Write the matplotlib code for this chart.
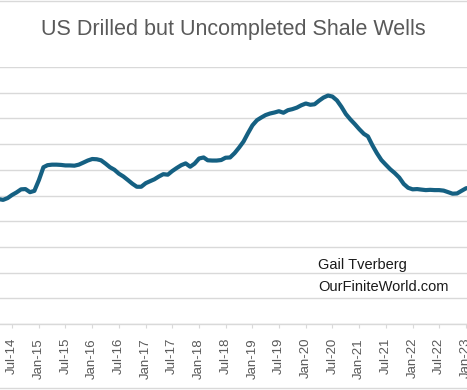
import matplotlib
matplotlib.use("Agg")
import matplotlib.pyplot as plt
import matplotlib.dates as mdates
from matplotlib.lines import Line2D
import pandas as pd
import datetime

# monthly DUC wells, starting Mar-2014
start_month = "2014-03-01"
duc_wells = [
    4870, 4860, 4830, 4900, 5020, 5120, 5240, 5250, 5130, 5180,   # Mar-14 .. Dec-14
    5600, 6100, 6180, 6200, 6200, 6190, 6170, 6170, 6160, 6200,   # Jan-15 .. Oct-15
    6280, 6360, 6420, 6410, 6370, 6240, 6100, 6000, 5850, 5740,   # Nov-15 .. Aug-16
    5600, 5460, 5340, 5340, 5480, 5560, 5630, 5740, 5830, 5810,   # Sep-16 .. Jun-17
    5950, 6070, 6180, 6250, 6120, 6240, 6440, 6480, 6370, 6360,   # Jul-17 .. Apr-18
    6360, 6380, 6470, 6480, 6650, 6860, 7100, 7420, 7730, 7930,   # May-18 .. Feb-19
    8030, 8130, 8190, 8230, 8280, 8220, 8320, 8360, 8420, 8510,   # Mar-19 .. Dec-19
    8580, 8530, 8550, 8690, 8810, 8890, 8850, 8700, 8450, 8170,   # Jan-20 .. Oct-20
    7960, 7780, 7580, 7400, 7300, 6950, 6650, 6380, 6200, 6020,   # Nov-20 .. Aug-21
    5870, 5700, 5450, 5300, 5240, 5250, 5230, 5210, 5220, 5210,   # Sep-21 .. Jun-22
    5210, 5190, 5130, 5070, 5080, 5180, 5280, 5310, 5330,         # Jul-22 .. Mar-23
]
tick_months = pd.date_range("2014-07-01", "2023-01-01", freq="6MS")

title = "US Drilled but Uncompleted Shale Wells"
credit = ["Gail Tverberg", "OurFiniteWorld.com"]

line_color = "#156082"
grid_color = "#d9d9d9"
text_color = "#595959"

dates = pd.date_range(start_month, periods=len(duc_wells), freq="MS")

plt.rcParams['font.family'] = ['Liberation Sans', 'DejaVu Sans']

fig = plt.figure(figsize=(4.67, 3.90), dpi=100)
ax = fig.add_axes([0.0, 1 - 324 / 390, 1.0, (324 - 67) / 390])

ax.plot(dates, duc_wells, color=line_color, linewidth=3.0,
        solid_capstyle="round", solid_joinstyle="round", zorder=3)

# x range: Jul-14 sits ~12 px from the left edge, Jan-23 at the right edge
px_per_day = (466 - 12) / (datetime.date(2023, 1, 1) - datetime.date(2014, 7, 1)).days
x0 = mdates.date2num(datetime.date(2014, 7, 1)) - 12 / px_per_day
x1 = x0 + 467 / px_per_day
ax.set_xlim(x0, x1)
ax.set_ylim(0, 10000)

ax.set_yticks(range(0, 10001, 1000))
ax.yaxis.grid(True, color=grid_color, linewidth=1.0)
ax.tick_params(axis="y", left=False, labelleft=False)

ax.set_xticks(mdates.date2num(tick_months))
ax.xaxis.set_major_formatter(mdates.DateFormatter("%b-%y"))
ax.tick_params(axis="x", direction="out", length=3, color=grid_color,
               labelsize=9.5, labelcolor=text_color, labelrotation=90, pad=7)

for side in ["left", "right", "top"]:
    ax.spines[side].set_visible(False)
ax.spines["bottom"].set_color(grid_color)
ax.spines["bottom"].set_linewidth(1.0)
ax.set_axisbelow(True)

fig.text(0.5, 1 - 30 / 390, title, ha="center", va="center",
         fontsize=15.5, color=text_color)

fig.text(318 / 467, 1 - 265 / 390, credit[0], ha="left", va="center",
         fontsize=10.5, color="#1a1a1a")
fig.text(318 / 467, 1 - 287 / 390, credit[1], ha="left", va="center",
         fontsize=10.5, color="#1a1a1a")

# chart area border (cropped), top and bottom
fig.add_artist(Line2D([0, 1], [1 - 1 / 390, 1 - 1 / 390], color=grid_color, linewidth=1.0))
fig.add_artist(Line2D([0, 1], [1 - 388 / 390, 1 - 388 / 390], color=grid_color, linewidth=1.0))

fig.savefig("out.png", dpi=100)
plt.close(fig)
